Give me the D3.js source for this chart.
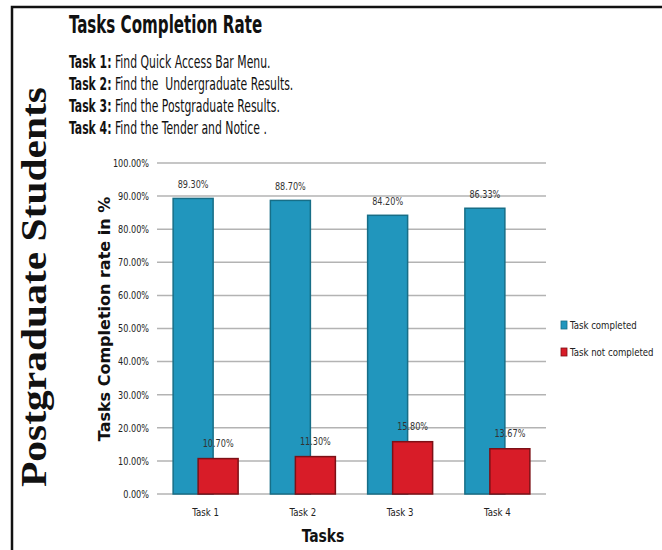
<!DOCTYPE html>
<html>
<head>
<meta charset="utf-8">
<script src="https://cdn.jsdelivr.net/npm/d3@7"></script>
<style>
  html, body { margin: 0; padding: 0; background: #fff; }
  svg { display: block; }
  text { white-space: pre; }
</style>
</head>
<body>
<svg id="chart" width="662" height="550"></svg>
<script>
// Task completion data (percent)
const categories = ["Task 1", "Task 2", "Task 3", "Task 4"];
const completed = [89.30, 88.70, 84.20, 86.33];
const notCompleted = [10.70, 11.30, 15.80, 13.67];
const seriesNames = ["Task completed", "Task not completed"];
const yTicks = [0, 10, 20, 30, 40, 50, 60, 70, 80, 90, 100];
const taskLabels = ["Task 1:", "Task 2:", "Task 3:", "Task 4:"];
const taskTexts = [
  " Find Quick Access Bar Menu.",
  " Find the  Undergraduate Results.",
  " Find the Postgraduate Results.",
  " Find the Tender and Notice ."
];

const svg = d3.select("#chart");
const W = 662, H = 550;
const NARROW = "'DejaVu Sans Condensed', 'DejaVu Sans', sans-serif";
const colors = { fill: ["#2196bd", "#d81c28"], stroke: ["#176e87", "#7d1016"] };
const pct = d => d3.format(".2f")(d) + "%";

// compress text horizontally around its anchor point
function squeeze(sel, k) {
  sel.each(function () {
    const t = d3.select(this);
    const x = +t.attr("x") || 0, y = +t.attr("y") || 0;
    t.attr("transform", `translate(${x},${y}) scale(${k},1) translate(${-x},${-y})`);
  });
}

svg.append("rect").attr("width", W).attr("height", H).attr("fill", "#fff");

// frame (top and left edges)
svg.append("path")
  .attr("d", `M12,${H} L12,7 L${W},7`)
  .attr("fill", "none").attr("stroke", "#111").attr("stroke-width", 2.5);

// title and task descriptions
svg.append("text")
  .attr("x", 69).attr("y", 33)
  .attr("font-family", NARROW)
  .attr("font-size", 24).attr("font-weight", "bold").attr("fill", "#111")
  .text("Tasks Completion Rate")
  .call(squeeze, 0.70);

const desc = svg.append("g").attr("font-family", NARROW).attr("font-size", 17).attr("fill", "#111");
taskLabels.forEach((lab, i) => {
  const t = desc.append("text").attr("x", 69).attr("y", 68 + i * 22);
  t.append("tspan").attr("font-weight", "bold").text(lab);
  t.append("tspan").text(taskTexts[i]);
  t.call(squeeze, 0.71);
});

// side caption
svg.append("text")
  .attr("transform", "translate(46,287) rotate(-90)")
  .attr("text-anchor", "middle")
  .attr("font-family", "'Liberation Serif', 'Times New Roman', serif")
  .attr("font-weight", "bold").attr("font-size", 36).attr("fill", "#111")
  .attr("textLength", 400).attr("lengthAdjust", "spacingAndGlyphs")
  .text("Postgraduate Students");

// scales
const x = d3.scaleBand().domain(categories).range([157, 546]);
const y = d3.scaleLinear().domain([0, 100]).range([494, 163]);
const offset = d3.scalePoint().domain(seriesNames).range([-12.5, 12.5]);
const barW = 40;

// gridlines
svg.append("g").selectAll("line").data(yTicks).join("line")
  .attr("x1", 157).attr("x2", 546)
  .attr("y1", d => y(d)).attr("y2", d => y(d))
  .attr("stroke", "#b3b3b3").attr("stroke-width", 1.5);

// y axis
const yAxis = svg.append("g")
  .attr("transform", "translate(152,0)")
  .call(d3.axisLeft(y).tickValues(yTicks).tickSize(0).tickFormat(pct));
yAxis.select(".domain").remove();
yAxis.selectAll("text").attr("font-size", 10.5).attr("fill", "#222")
  .attr("font-family", NARROW).call(squeeze, 0.86);

// x axis
const xAxis = svg.append("g")
  .attr("transform", "translate(0,505)")
  .call(d3.axisBottom(x).tickSize(0));
xAxis.select(".domain").remove();
xAxis.selectAll("text").attr("font-size", 11).attr("fill", "#222")
  .attr("font-family", NARROW).call(squeeze, 0.87);

// axis titles
svg.append("text")
  .attr("x", 323).attr("y", 542).attr("text-anchor", "middle")
  .attr("font-family", NARROW)
  .attr("font-size", 18).attr("font-weight", "bold").attr("fill", "#111")
  .text("Tasks")
  .call(squeeze, 0.86);

svg.append("text")
  .attr("transform", "translate(110,319) rotate(-90)")
  .attr("text-anchor", "middle")
  .attr("font-family", "'DejaVu Sans', Verdana, sans-serif")
  .attr("font-weight", "bold").attr("font-size", 16).attr("fill", "#111")
  .text("Tasks Completion rate in %");

// bars and value labels
const rows = categories.map((c, i) => ({ cat: c, vals: [completed[i], notCompleted[i]] }));
seriesNames.forEach((s, si) => {
  const g = svg.append("g");
  g.selectAll("rect").data(rows).join("rect")
    .attr("x", d => x(d.cat) + x.bandwidth() / 2 + offset(s) - barW / 2)
    .attr("y", d => y(d.vals[si]))
    .attr("width", barW)
    .attr("height", d => y(0) - y(d.vals[si]))
    .attr("fill", colors.fill[si])
    .attr("stroke", colors.stroke[si]).attr("stroke-width", 1.5);
  g.selectAll("text").data(rows).join("text")
    .attr("x", d => x(d.cat) + x.bandwidth() / 2 + offset(s))
    .attr("y", d => y(d.vals[si]) - (si === 0 ? 10 : 12))
    .attr("text-anchor", "middle")
    .attr("font-family", NARROW)
    .attr("font-size", 10.5).attr("fill", "#333")
    .text(d => pct(d.vals[si]))
    .call(squeeze, 0.86);
});

// legend
const legend = svg.append("g");
seriesNames.forEach((s, i) => {
  const ly = 325 + i * 27;
  legend.append("rect").attr("x", 561).attr("y", ly - 4).attr("width", 6).attr("height", 8)
    .attr("fill", colors.fill[i]).attr("stroke", colors.stroke[i]).attr("stroke-width", 0.8);
  legend.append("text").attr("x", 570).attr("y", ly + 4)
    .attr("font-family", NARROW)
    .attr("font-size", 11).attr("fill", "#222").text(s)
    .call(squeeze, 0.87);
});
</script>
</body>
</html>
